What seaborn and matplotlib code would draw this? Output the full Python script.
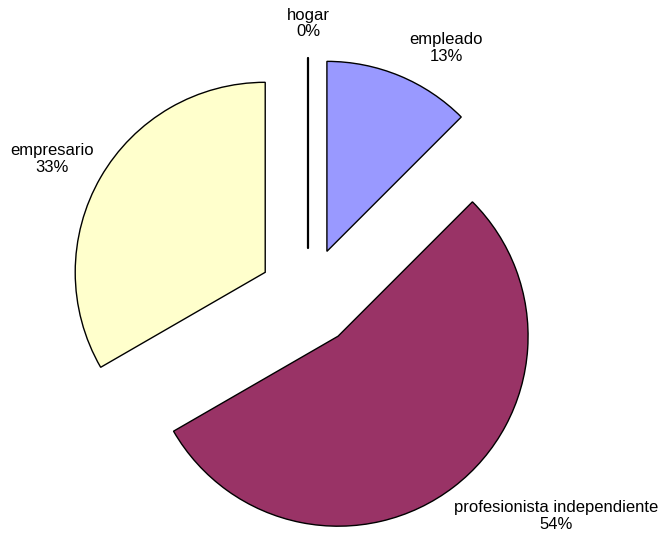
import numpy as np
import seaborn as sns
import matplotlib.pyplot as plt

# datos (conteos: 3/24 = 13%, 13/24 = 54%, 8/24 = 33%, 0)
categorias = ["empleado", "profesionista independiente", "empresario", "hogar"]
valores = [3, 13, 8, 0]
colores = ["#9999FF", "#993366", "#FFFFCC", "#CCFFFF"]

sns.set_theme(style="white")
plt.rcParams['font.family'] = ['Liberation Sans', 'DejaVu Sans']

fig = plt.figure(figsize=(6.62, 5.40), dpi=100)
ax = fig.add_axes([0, 0, 1, 1])

total = sum(valores)
wedges, _ = ax.pie(valores, colors=colores, startangle=90, counterclock=False,
                   explode=[0.26] * len(valores), radius=1,
                   wedgeprops=dict(edgecolor="black", linewidth=1))

# pie() fija sus propios limites, asi que se ponen despues
r = 190.0  # px por unidad
cx, cy = 308, 297
ax.set_xlim(-cx / r, (662 - cx) / r)
ax.set_ylim(-(540 - cy) / r, cy / r)
ax.set_aspect("equal")
ax.axis("off")

# la rebanada de 0% se dibuja como línea
for w, v in zip(wedges, valores):
    if v == 0:
        x0, y0 = w.center
        ax.plot([x0, x0], [y0, y0 + 1], color="black", lw=1.6)

# etiquetas: distancia desde el centro de cada rebanada y ajuste de ángulo
ajustes = {"empleado": (1.24, -8), "profesionista independiente": (1.49, 13),
           "empresario": (1.27, 2), "hogar": (1.18, 0)}
for w, cat, v in zip(wedges, categorias, valores):
    ang = (w.theta1 + w.theta2) / 2
    if v == 0:
        ang = 90
    k, da = ajustes[cat]
    a = np.deg2rad(ang + da)
    x0, y0 = w.center
    pct = int(100 * v / total + 0.5)  # redondeo como Excel (12.5 -> 13)
    ax.text(x0 + k * np.cos(a), y0 + k * np.sin(a), f"{cat}\n{pct}%",
            ha="center", va="center", fontsize=12, linespacing=1.15,
            color="black")

fig.savefig("out.png", dpi=100)
